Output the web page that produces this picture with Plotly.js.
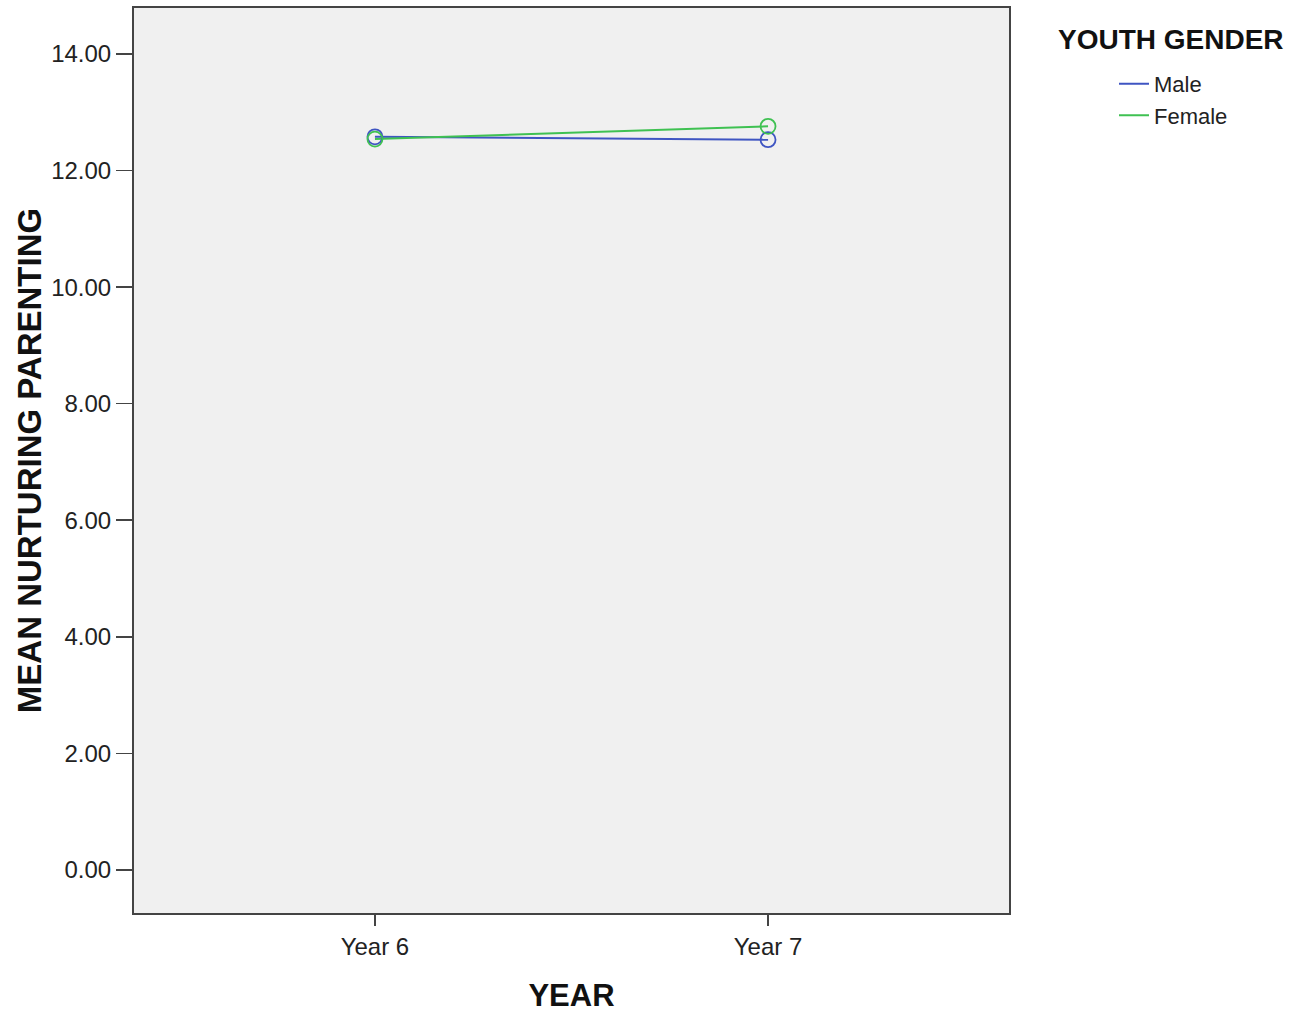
<!DOCTYPE html>
<html>
<head>
<meta charset="utf-8">
<script src="https://cdn.plot.ly/plotly-3.0.1.min.js"></script>
<style>html,body{margin:0;padding:0;background:#fff;}#chart{width:1292px;height:1013px;}</style>
</head>
<body>
<div id="chart"></div>
<script>
const years = ['Year 6', 'Year 7'];
const maleMeans = [12.58, 12.53];
const femaleMeans = [12.54, 12.76];
const yTicks = [0, 2, 4, 6, 8, 10, 12, 14];
const yTickLabels = ['0.00', '2.00', '4.00', '6.00', '8.00', '10.00', '12.00', '14.00'];

const blue = '#3f55c2';
const green = '#3fc152';
const font = 'Liberation Sans, Arial, sans-serif';

const traces = [
  {x: years, y: maleMeans, name: 'Male', legendgroup: 'm', type: 'scatter', mode: 'lines', line: {color: blue, width: 2}, hoverinfo: 'skip'},
  {x: years, y: femaleMeans, name: 'Female', legendgroup: 'f', type: 'scatter', mode: 'lines', line: {color: green, width: 2}, hoverinfo: 'skip'},
  {x: years, y: maleMeans, name: 'Male', legendgroup: 'm', type: 'scatter', mode: 'markers', showlegend: false,
   marker: {symbol: 'circle-open', size: 15, color: blue, line: {width: 1.8, color: blue}}},
  {x: years, y: femaleMeans, name: 'Female', legendgroup: 'f', type: 'scatter', mode: 'markers', showlegend: false,
   marker: {symbol: 'circle-open', size: 15, color: green, line: {width: 1.8, color: green}}}
];

const layout = {
  width: 1292, height: 1013,
  margin: {l: 134, r: 283, t: 8, b: 100},
  paper_bgcolor: '#ffffff',
  plot_bgcolor: '#f0f0f0',
  font: {family: font, color: '#222', size: 18},
  showlegend: true,
  legend: {
    x: 1.12, xanchor: 'left', xref: 'paper', y: 0.9394, yanchor: 'top',
    bgcolor: 'rgba(0,0,0,0)', font: {family: font, size: 22, color: '#222'},
    traceorder: 'grouped', tracegroupgap: 0, itemwidth: 30
  },
  xaxis: {
    type: 'category', range: [-0.613, 1.613],
    showgrid: false, zeroline: false,
    showline: true, mirror: true, linecolor: '#444', linewidth: 2,
    ticks: 'outside', ticklen: 11, tickwidth: 1.5, tickcolor: '#444',
    tickfont: {family: font, size: 24, color: '#222'},
    title: {text: '<b>YEAR</b>', font: {family: font, size: 31, color: '#111'}, standoff: 29}
  },
  yaxis: {
    range: [-0.74, 14.79],
    tickmode: 'array', tickvals: yTicks, ticktext: yTickLabels,
    showgrid: false, zeroline: false,
    showline: true, mirror: true, linecolor: '#444', linewidth: 2,
    ticks: 'outside', ticklen: 16, tickwidth: 1.5, tickcolor: '#444',
    tickfont: {family: font, size: 24, color: '#222'},
    title: {text: '<b>MEAN NURTURING PARENTING</b>', font: {family: font, size: 33, color: '#111'}, standoff: 0}
  },
  annotations: [
    {text: '<b>YOUTH GENDER</b>', xref: 'paper', yref: 'paper', x: 1.054, y: 0.965, xanchor: 'left', yanchor: 'middle',
     showarrow: false, font: {family: font, size: 28, color: '#111'}}
  ]
};

Plotly.newPlot('chart', traces, layout, {displayModeBar: false, staticPlot: true});
</script>
</body>
</html>
